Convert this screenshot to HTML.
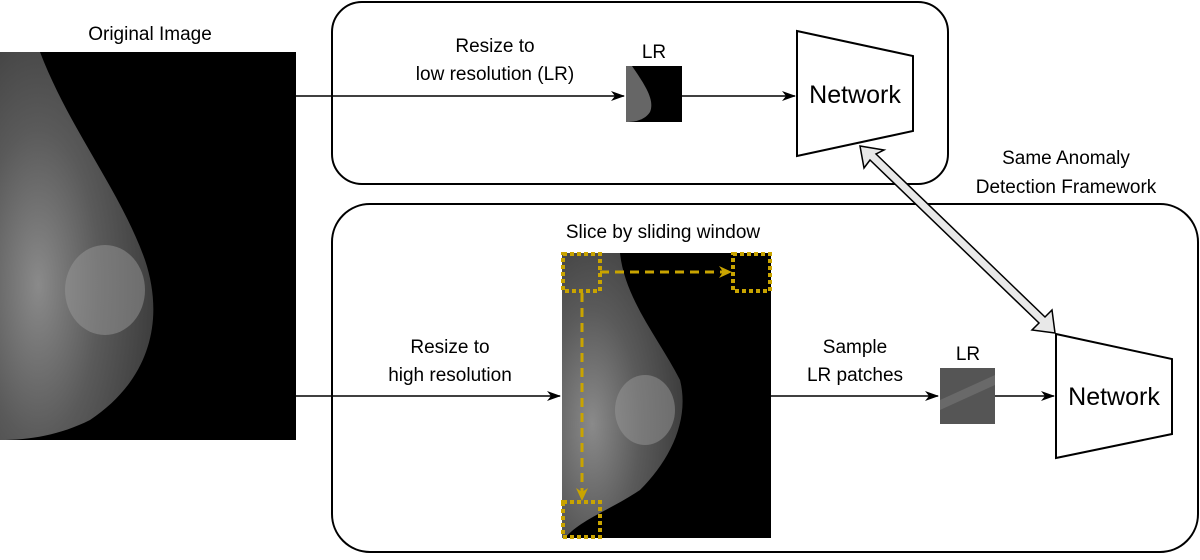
<!DOCTYPE html>
<html><head><style>
body{margin:0;background:#fff;width:1200px;height:555px;overflow:hidden;font-family:"Liberation Sans",sans-serif}
</style></head><body>
<svg width="1200" height="555" viewBox="0 0 1200 555" xmlns="http://www.w3.org/2000/svg" font-family="Liberation Sans, sans-serif">
<defs>
<radialGradient id="br" cx="0.25" cy="0.6" r="0.8">
<stop offset="0" stop-color="#8a8a8a"/><stop offset="0.5" stop-color="#5a5a5a"/><stop offset="1" stop-color="#3a3a3a"/></radialGradient>
<marker id="ah" markerWidth="14" markerHeight="12" refX="13" refY="6" orient="auto" markerUnits="userSpaceOnUse"><path d="M0,1 L14,6 L0,11 L4,6 Z" fill="#000"/></marker>
<marker id="ay" markerWidth="14" markerHeight="14" refX="12" refY="7" orient="auto" markerUnits="userSpaceOnUse"><path d="M0,1 L13,7 L0,13 L4,7 Z" fill="#c9a400"/></marker>
</defs>
<rect x="332" y="2" width="616" height="182" rx="30" fill="none" stroke="#000" stroke-width="2"/>
<rect x="332" y="204" width="866" height="348" rx="38" fill="none" stroke="#000" stroke-width="2"/>
<rect x="0" y="52" width="296" height="388" fill="#000"/>
<path d="M0,52 L40,52 C70,130 120,190 145,260 C165,320 150,380 90,420 C60,435 30,440 0,440 Z" fill="url(#br)"/>
<ellipse cx="105" cy="290" rx="40" ry="45" fill="#9a9a9a" opacity="0.5"/>
<text x="150" y="40" font-size="19" text-anchor="middle">Original Image</text>
<line x1="296" y1="96" x2="624" y2="96" stroke="#000" stroke-width="1.5" marker-end="url(#ah)"/>
<text x="495" y="52" font-size="19" text-anchor="middle">Resize to</text>
<text x="495" y="80" font-size="19" text-anchor="middle">low resolution (LR)</text>
<text x="654" y="58" font-size="19" text-anchor="middle">LR</text>
<rect x="626" y="66" width="56" height="56" fill="#000"/>
<path d="M626,66 L632,66 C645,85 655,100 650,112 C645,120 635,122 626,122Z" fill="#666"/>
<line x1="682" y1="96" x2="795" y2="96" stroke="#000" stroke-width="1.5" marker-end="url(#ah)"/>
<polygon points="797,31 913,56 913,131 797,156" fill="#fff" stroke="#000" stroke-width="2"/>
<text x="855" y="103" font-size="25" text-anchor="middle">Network</text>
<polygon points="860,146 884,150 876,154 1045,317 1052,310 1055,333 1032,330 1039,323 870,160 864,168" fill="#e8e8e8" stroke="#000" stroke-width="1.5"/>
<text x="1066" y="164" font-size="19" text-anchor="middle">Same Anomaly</text>
<text x="1066" y="193" font-size="19" text-anchor="middle">Detection Framework</text>
<line x1="296" y1="396" x2="560" y2="396" stroke="#000" stroke-width="1.5" marker-end="url(#ah)"/>
<text x="450" y="353" font-size="19" text-anchor="middle">Resize to</text>
<text x="450" y="381" font-size="19" text-anchor="middle">high resolution</text>
<text x="663" y="238" font-size="19" text-anchor="middle">Slice by sliding window</text>
<rect x="562" y="253" width="209" height="285" fill="#000"/>
<path d="M562,253 L620,253 C625,300 660,340 680,380 C690,420 670,460 640,490 C610,510 580,520 565,538 L562,538Z" fill="url(#br)"/>
<ellipse cx="645" cy="410" rx="30" ry="35" fill="#999" opacity="0.5"/>
<rect x="563" y="254" width="37" height="37" fill="none" stroke="#c9a400" stroke-width="4" stroke-dasharray="4,3"/>
<rect x="733" y="254" width="37" height="37" fill="none" stroke="#c9a400" stroke-width="4" stroke-dasharray="4,3"/>
<rect x="563" y="502" width="37" height="35" fill="none" stroke="#c9a400" stroke-width="4" stroke-dasharray="4,3"/>
<line x1="600" y1="272" x2="731" y2="272" stroke="#c9a400" stroke-width="3" stroke-dasharray="9,6" marker-end="url(#ay)"/>
<line x1="582" y1="293" x2="582" y2="500" stroke="#c9a400" stroke-width="3" stroke-dasharray="9,6" marker-end="url(#ay)"/>
<line x1="771" y1="396" x2="938" y2="396" stroke="#000" stroke-width="1.5" marker-end="url(#ah)"/>
<text x="855" y="353" font-size="19" text-anchor="middle">Sample</text>
<text x="855" y="381" font-size="19" text-anchor="middle">LR patches</text>
<text x="968" y="360" font-size="19" text-anchor="middle">LR</text>
<rect x="940" y="368" width="55" height="56" fill="#555"/>
<path d="M940,400 L995,375 L995,385 L940,410Z" fill="#777" opacity="0.6"/>
<line x1="995" y1="396" x2="1054" y2="396" stroke="#000" stroke-width="1.5" marker-end="url(#ah)"/>
<polygon points="1056,334 1172,359 1172,434 1056,458" fill="#fff" stroke="#000" stroke-width="2"/>
<text x="1114" y="405" font-size="25" text-anchor="middle">Network</text>
</svg>
</body></html>
